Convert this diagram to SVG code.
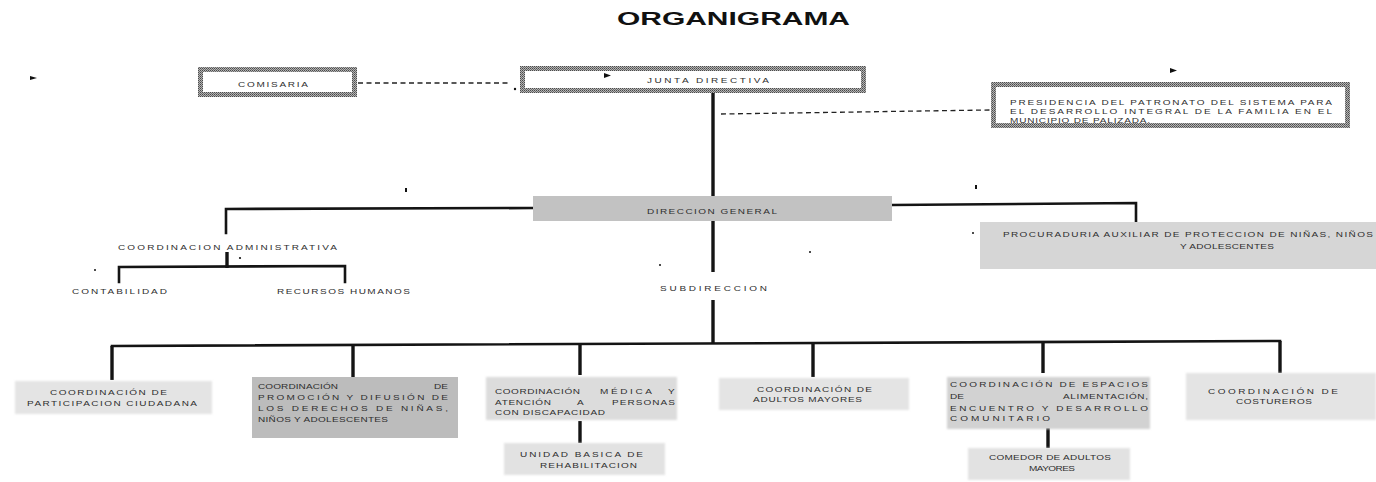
<svg xmlns="http://www.w3.org/2000/svg" width="1376" height="482" viewBox="0 0 1376 482">
<defs>
<pattern id="dither" width="2" height="2" patternUnits="userSpaceOnUse">
<rect width="2" height="2" fill="#b4b4b4"/>
<rect x="0" y="0" width="1" height="1" fill="#4a4a4a"/>
<rect x="1" y="1" width="1" height="1" fill="#6a6a6a"/>
</pattern>
<filter id="soft" x="-5%" y="-20%" width="110%" height="140%"><feGaussianBlur stdDeviation="1.2"/></filter>
</defs>
<style>
.t{font-family:"Liberation Sans",Arial,sans-serif;font-size:8px;font-weight:normal;fill:#2e2e2e}
.ttl{font-family:"Liberation Sans",Arial,sans-serif;font-size:18px;font-weight:bold;fill:#111}
.bx{fill:#fff;stroke:url(#dither);stroke-width:5}
.ln{stroke:#141414;stroke-width:2.6;fill:none;stroke-linecap:square}
.vl{stroke:#141414;stroke-width:3.4;fill:none}
.dash{stroke:#222;stroke-width:1.3;stroke-dasharray:5 3.5;fill:none}
.mk{fill:#111}
</style>
<rect width="1376" height="482" fill="#fff"/>

<text class="ttl" x="617" y="25" textLength="233" lengthAdjust="spacingAndGlyphs">ORGANIGRAMA</text>

<g id="connectors">
<line class="dash" x1="358" y1="83" x2="510" y2="83"/>
<line class="dash" x1="721" y1="114" x2="990" y2="110"/>
<line class="vl" x1="713" y1="91" x2="713" y2="196"/>
<line class="vl" x1="713" y1="221" x2="713" y2="272"/>
<line class="vl" x1="713" y1="300" x2="713" y2="343"/>
<polyline class="ln" points="533,208 226,209 226,233"/>
<polyline class="ln" points="892,205 1136,203 1136,222"/>
<line class="vl" x1="227" y1="252" x2="227" y2="268"/>
<polyline class="ln" points="119,282 119,267 345,266 345,282"/>
<line class="ln" x1="112" y1="346" x2="1280" y2="341"/>
<line class="vl" x1="112" y1="346" x2="112" y2="380"/>
<line class="vl" x1="353" y1="345" x2="353" y2="377"/>
<line class="vl" x1="580" y1="344" x2="580" y2="375"/>
<line class="vl" x1="813" y1="343" x2="813" y2="377"/>
<line class="vl" x1="1043" y1="342" x2="1043" y2="373"/>
<line class="vl" x1="1280" y1="341" x2="1280" y2="373"/>
<line class="vl" x1="580" y1="421" x2="580" y2="443"/>
<line class="vl" x1="1048" y1="428" x2="1048" y2="448"/>
</g>

<g id="comisaria">
<rect class="bx" x="200.5" y="69.5" width="154" height="25"/>
<g transform="scale(1.25,1)"><text class="t" x="190.4" y="87" textLength="56">COMISARIA</text></g>
</g>

<g id="junta-directiva">
<rect class="bx" x="522.5" y="68.5" width="341" height="22"/>
<g transform="scale(1.25,1)"><text class="t" x="517.6" y="83" textLength="97.6">JUNTA DIRECTIVA</text></g>
</g>

<g id="presidencia">
<rect class="bx" x="993.5" y="84.5" width="354" height="41"/>
<g transform="scale(1.25,1)">
<text class="t" x="808" y="105" textLength="257.6">PRESIDENCIA DEL PATRONATO DEL SISTEMA PARA</text>
<text class="t" x="808" y="114" textLength="257.6">EL DESARROLLO INTEGRAL DE LA FAMILIA EN EL</text>
<text class="t" x="808" y="123" textLength="112">MUNICIPIO DE PALIZADA.</text>
</g>
</g>

<g id="direccion-general">
<rect x="533" y="196" width="359" height="25" fill="#c2c2c2"/>
<g transform="scale(1.25,1)"><text class="t" x="517.6" y="214.5" textLength="104">DIRECCION GENERAL</text></g>
</g>

<g id="coordinacion-administrativa">
<g transform="scale(1.25,1)"><text class="t" x="94.4" y="250" textLength="175.2">COORDINACION ADMINISTRATIVA</text></g>
</g>

<g id="contabilidad">
<g transform="scale(1.25,1)"><text class="t" x="57.6" y="294" textLength="76">CONTABILIDAD</text></g>
</g>

<g id="recursos-humanos">
<g transform="scale(1.25,1)"><text class="t" x="221.6" y="294" textLength="106.4">RECURSOS HUMANOS</text></g>
</g>

<g id="procuraduria">
<rect x="980" y="222" width="396" height="47" fill="#d6d6d6"/>
<g transform="scale(1.25,1)">
<text class="t" x="802.4" y="237.5" textLength="296">PROCURADURIA AUXILIAR DE PROTECCION DE NIÑAS, NIÑOS</text>
<text class="t" x="944" y="249" textLength="75.2">Y ADOLESCENTES</text>
</g>
</g>

<g id="subdireccion">
<g transform="scale(1.25,1)"><text class="t" x="528" y="291" textLength="85.6">SUBDIRECCION</text></g>
</g>

<g id="participacion-ciudadana">
<rect x="15" y="381" width="197" height="33" fill="#e4e4e4" filter="url(#soft)"/>
<g transform="scale(1.25,1)">
<text class="t" x="40" y="395" textLength="93.6">COORDINACIÓN DE</text>
<text class="t" x="21.6" y="406" textLength="136">PARTICIPACION CIUDADANA</text>
</g>
</g>

<g id="promocion-derechos">
<rect x="252" y="377" width="206" height="61" fill="#bcbcbc"/>
<g transform="scale(1.25,1)">
<text class="t" x="206.4" y="389.5" textLength="64">COORDINACIÓN</text>
<text class="t" x="347.2" y="389.5" textLength="11.2">DE</text>
<text class="t" x="206.4" y="400.5" textLength="152">PROMOCIÓN Y DIFUSIÓN DE</text>
<text class="t" x="206.4" y="411.5" textLength="152">LOS DERECHOS DE NIÑAS,</text>
<text class="t" x="206.4" y="422.5" textLength="104">NIÑOS Y ADOLESCENTES</text>
</g>
</g>

<g id="medica-discapacidad">
<rect x="486" y="377" width="191" height="43" fill="#dcdcdc" filter="url(#soft)"/>
<g transform="scale(1.25,1)">
<text class="t" x="396" y="394.5" textLength="68">COORDINACIÓN</text>
<text class="t" x="480" y="394.5" textLength="41.6">MÉDICA</text>
<text class="t" x="534.4" y="394.5">Y</text>
<text class="t" x="396" y="405" textLength="44.8">ATENCIÓN</text>
<text class="t" x="461.6" y="405">A</text>
<text class="t" x="489.6" y="405" textLength="50.4">PERSONAS</text>
<text class="t" x="396" y="415.5" textLength="88">CON DISCAPACIDAD</text>
</g>
</g>

<g id="unidad-rehabilitacion">
<rect x="504" y="443" width="161" height="32" fill="#e2e2e2" filter="url(#soft)"/>
<g transform="scale(1.25,1)">
<text class="t" x="416" y="457.5" textLength="98.4">UNIDAD BASICA DE</text>
<text class="t" x="432" y="468" textLength="77.6">REHABILITACION</text>
</g>
</g>

<g id="adultos-mayores">
<rect x="719" y="378" width="190" height="32" fill="#e4e4e4" filter="url(#soft)"/>
<g transform="scale(1.25,1)">
<text class="t" x="605.6" y="392.5" textLength="92">COORDINACIÓN DE</text>
<text class="t" x="602.4" y="402.5" textLength="87.2">ADULTOS MAYORES</text>
</g>
</g>

<g id="espacios-alimentacion">
<rect x="947" y="377" width="203" height="52" fill="#d2d2d2" filter="url(#soft)"/>
<g transform="scale(1.25,1)">
<text class="t" x="760" y="387.5" textLength="158.4">COORDINACIÓN DE ESPACIOS</text>
<text class="t" x="760" y="399.5" textLength="11.2">DE</text>
<text class="t" x="850.4" y="399.5" textLength="68">ALIMENTACIÓN,</text>
<text class="t" x="760" y="411" textLength="158.4">ENCUENTRO Y DESARROLLO</text>
<text class="t" x="760" y="421.5" textLength="80">COMUNITARIO</text>
</g>
</g>

<g id="comedor">
<rect x="968" y="448" width="162" height="32" fill="#e2e2e2" filter="url(#soft)"/>
<g transform="scale(1.25,1)">
<text class="t" x="791.2" y="460" textLength="97.6">COMEDOR DE ADULTOS</text>
<text class="t" x="823.2" y="471" textLength="36.8">MAYORES</text>
</g>
</g>

<g id="costureros">
<rect x="1186" y="373" width="190" height="47" fill="#e4e4e4" filter="url(#soft)"/>
<g transform="scale(1.25,1)">
<text class="t" x="966.4" y="394.5" textLength="104">COORDINACIÓN DE</text>
<text class="t" x="988.8" y="404" textLength="60.8">COSTUREROS</text>
</g>
</g>

<g id="marks">
<path class="mk" d="M30,76 L37,78 L30,80 Z"/>
<path class="mk" d="M604,73 L611,75.5 L604,78 Z"/>
<path class="mk" d="M1170,68 L1177,70.5 L1170,73 Z"/>
<circle class="mk" cx="515" cy="89" r="1.2"/>
<rect class="mk" x="405" y="188" width="2" height="4"/>
<rect class="mk" x="975" y="185" width="2" height="4"/>
<circle class="mk" cx="95" cy="270" r="1"/>
<circle class="mk" cx="240" cy="258" r="1.1"/>
<circle class="mk" cx="660" cy="265" r="1"/>
<circle class="mk" cx="810" cy="252" r="1"/>
<circle class="mk" cx="973" cy="233" r="1"/>
</g>
</svg>
